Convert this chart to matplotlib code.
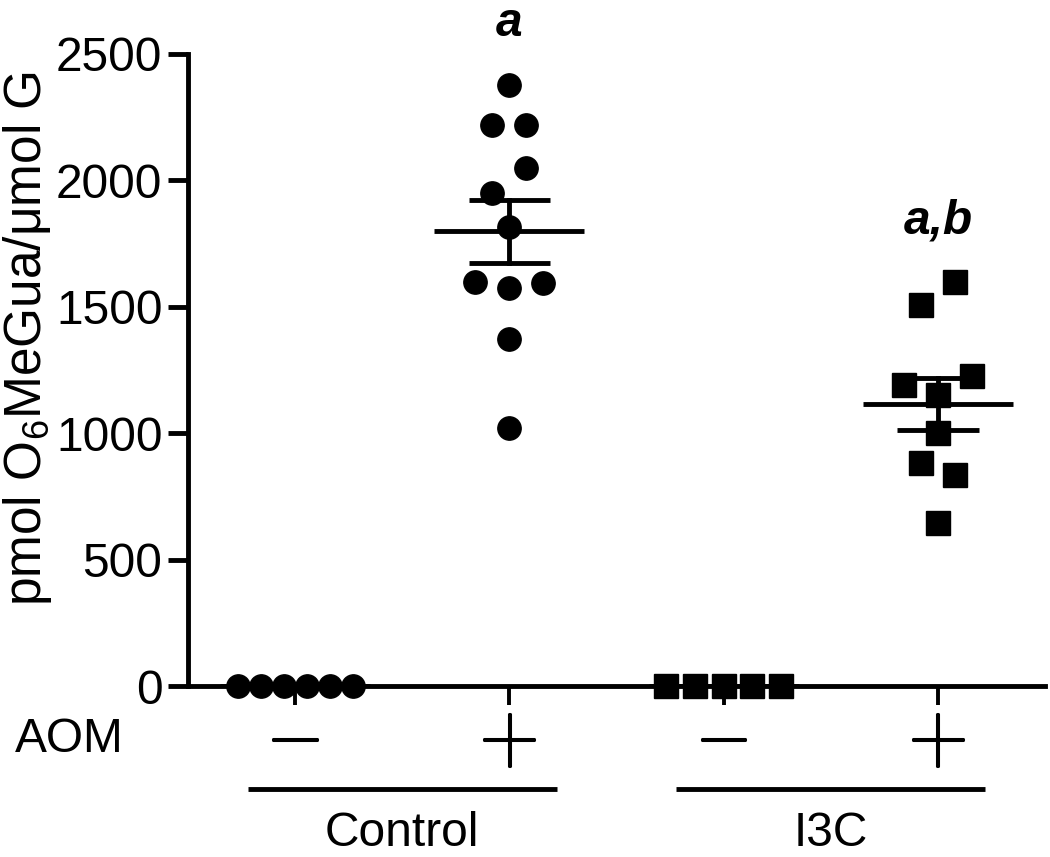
import matplotlib
matplotlib.use('Agg')
import matplotlib.pyplot as plt
import matplotlib.transforms as mtransforms
import matplotlib.patheffects as pe
import numpy as np

plt.rcParams['font.family'] = ['Liberation Sans', 'DejaVu Sans']
plt.rcParams['mathtext.fontset'] = 'custom'
plt.rcParams['mathtext.rm'] = 'Liberation Sans'

# data (pmol O6MeGua / umol G), order inside each list = left-to-right in a row
groups = ['Control', 'I3C']
aom_labels = ['−', '+', '−', '+']
ctrl_minus = [0, 0, 0, 0, 0, 0]
ctrl_plus = [2377, 2219, 2219, 1950, 2049, 1816, 1598, 1574, 1594, 1373, 1020]
i3c_minus = [0, 0, 0, 0, 0]
i3c_plus = [1507, 1598, 1190, 1152, 1226, 1000, 882, 835, 645]
sig_labels = ['', 'a', '', 'a,b']
yticks = [0, 500, 1000, 1500, 2000, 2500]

series = [ctrl_minus, ctrl_plus, i3c_minus, i3c_plus]
markers = ['o', 'o', 's', 's']

FS = 34.5
LW = 3.5

fig = plt.figure(figsize=(10.5, 8.57), dpi=100)
ax = fig.add_axes([188 / 1050, (857 - 686) / 857, (1045 - 188) / 1050, (686 - 54) / 857])
ax.set_xlim(0.5, 4.5)
ax.set_ylim(0, 2500)

ppx = ax.bbox.width / 4.0      # pixels per x unit
ppy = ax.bbox.height / 2500.0  # pixels per y unit


def swarm(vals, d=34, tol=27.6, maxw=115):
    """simple row-based scatter spread, result in x data units"""
    v = np.asarray(vals, float)
    y = v * ppy
    order = np.argsort(-y, kind='stable')
    rows = [[order[0]]]
    for i, j in zip(order[:-1], order[1:]):
        if y[i] - y[j] <= tol:
            rows[-1].append(j)
        else:
            rows.append([j])
    off = np.zeros(len(v))
    for r in rows:
        r = sorted(r)
        n = len(r)
        if n == 1:
            continue
        s = min(d, maxw / (n - 1))
        for k, idx in enumerate(r):
            off[idx] = (k - (n - 1) / 2) * s
    return off / ppx


for i, (vals, m) in enumerate(zip(series, markers)):
    x0 = i + 1
    xs = x0 + swarm(vals)
    ax.plot(xs, vals, linestyle='none', marker=m, ms=16.8, color='black',
            clip_on=False, zorder=4)
    mean = np.mean(vals)
    sem = np.std(vals, ddof=1) / np.sqrt(len(vals))
    ax.plot([x0 - 0.35, x0 + 0.35], [mean, mean], color='black', lw=LW,
            solid_capstyle='butt', zorder=5)
    ax.plot([x0, x0], [mean - sem, mean + sem], color='black', lw=LW, zorder=5)
    for yy in (mean - sem, mean + sem):
        ax.plot([x0 - 0.19, x0 + 0.19], [yy, yy], color='black', lw=LW,
                solid_capstyle='butt', zorder=5)
    if sig_labels[i]:
        ax.annotate(sig_labels[i], xy=(x0, max(vals)), xytext=(0, 35),
                    textcoords='offset points', ha='center', va='baseline',
                    fontsize=FS, fontweight='bold', fontstyle='italic')

# axes styling
for s in ['top', 'right']:
    ax.spines[s].set_visible(False)
ax.spines['left'].set_linewidth(LW)
ax.spines['bottom'].set_linewidth(LW)
ax.set_yticks(yticks)
ax.set_yticklabels([str(t) for t in yticks])
ax.tick_params(axis='y', length=14.4, width=LW, pad=4, labelsize=FS)
ax.set_xticks([1, 2, 3, 4])
ax.set_xticklabels(aom_labels)
ax.tick_params(axis='x', length=13.5, width=LW * 0.8, pad=-5, labelsize=78)
for lab in ax.get_xticklabels():
    lab.set_family(['Lato', 'Liberation Sans'])
    lab.set_fontweight('light')
    lab.set_path_effects([pe.withStroke(linewidth=2.2, foreground='black')])

fig.text(28 / 1050, (857 - 338) / 857, r'pmol O$_\mathregular{6}$MeGua/μmol G',
         rotation=90, ha='center', va='center', fontsize=37)
fig.text(15 / 1050, (857 - 740) / 857, 'AOM', ha='left', va='center', fontsize=FS)

# group brackets under the AOM signs
trans = mtransforms.blended_transform_factory(ax.transData, ax.transAxes)
for g, name in enumerate(groups):
    c = 2 * g + 1.5
    ax.plot([c - 0.72, c + 0.72], [-0.163, -0.163], transform=trans, color='black',
            lw=LW, clip_on=False, solid_capstyle='butt')
    ax.text(c, -0.233, name, transform=trans, ha='center', va='center', fontsize=FS)

fig.savefig('out.png', dpi=100)
